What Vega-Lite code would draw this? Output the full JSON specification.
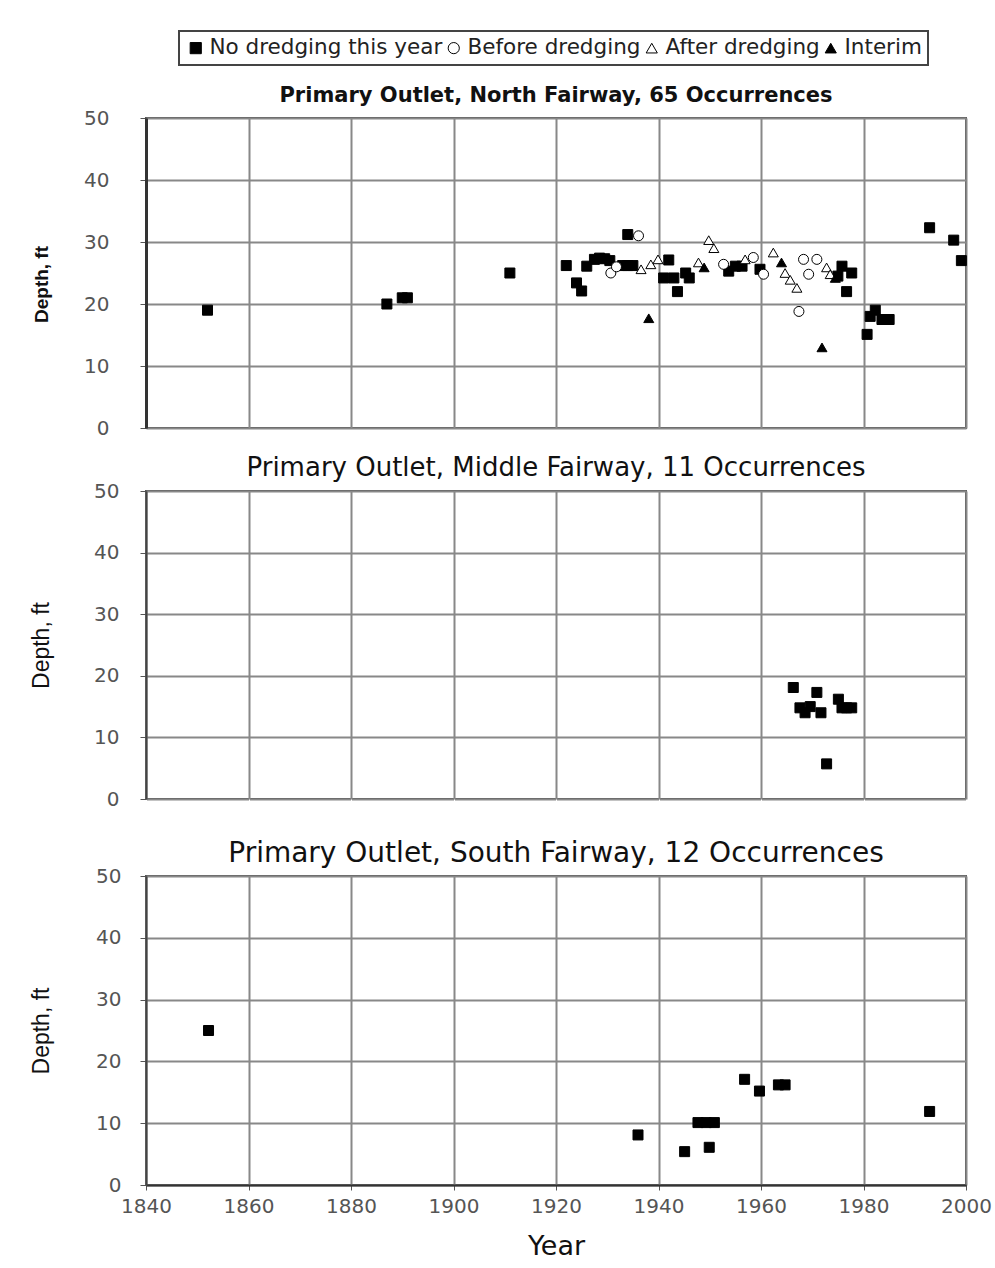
{
  "$schema": "https://vega.github.io/schema/vega-lite/v6.json",
  "padding": {"left": 29, "top": 30, "right": 5, "bottom": 4},
  "background": "white",
  "config": {
    "font": "DejaVu Sans",
    "view": {"stroke": "#555", "strokeWidth": 2},
    "concat": {"spacing": 15},
    "axis": {
      "gridColor": "#888", "gridWidth": 2, "gridOpacity": 1,
      "labelFont": "DejaVu Sans", "labelFontSize": 20, "labelColor": "#555",
      "tickColor": "#555", "domainColor": "#444", "domainWidth": 2,
      "titleColor": "#111", "labelFlush": false
    },
    "legend": {"strokeWidth": 2, "orient": "none", "legendX": 33, "legendY": -87, "direction": "horizontal", "columns": 4, "title": null, "labelFont": "DejaVu Sans", "labelFontSize": 21.5, "labelColor": "#222", "symbolSize": 125, "symbolStrokeWidth": 1, "strokeColor": "#444", "padding": 6, "columnPadding": 0, "labelOffset": 3, "labelLimit": 400}
  },
  "datasets": {
    "d": [
      {"panel": "N", "year": 1852, "depth": 19, "type": "No dredging this year"},
      {"panel": "N", "year": 1887, "depth": 20, "type": "No dredging this year"},
      {"panel": "N", "year": 1890, "depth": 21, "type": "No dredging this year"},
      {"panel": "N", "year": 1891, "depth": 21, "type": "No dredging this year"},
      {"panel": "N", "year": 1911, "depth": 25, "type": "No dredging this year"},
      {"panel": "N", "year": 1922, "depth": 26.2, "type": "No dredging this year"},
      {"panel": "N", "year": 1924, "depth": 23.4, "type": "No dredging this year"},
      {"panel": "N", "year": 1925, "depth": 22.1, "type": "No dredging this year"},
      {"panel": "N", "year": 1926, "depth": 26.1, "type": "No dredging this year"},
      {"panel": "N", "year": 1927.5, "depth": 27.2, "type": "No dredging this year"},
      {"panel": "N", "year": 1928.5, "depth": 27.4, "type": "No dredging this year"},
      {"panel": "N", "year": 1929.5, "depth": 27.3, "type": "No dredging this year"},
      {"panel": "N", "year": 1930.5, "depth": 27, "type": "No dredging this year"},
      {"panel": "N", "year": 1933, "depth": 26.2, "type": "No dredging this year"},
      {"panel": "N", "year": 1934, "depth": 26.2, "type": "No dredging this year"},
      {"panel": "N", "year": 1935, "depth": 26.2, "type": "No dredging this year"},
      {"panel": "N", "year": 1934, "depth": 31.2, "type": "No dredging this year"},
      {"panel": "N", "year": 1941, "depth": 24.2, "type": "No dredging this year"},
      {"panel": "N", "year": 1942, "depth": 27.1, "type": "No dredging this year"},
      {"panel": "N", "year": 1943, "depth": 24.2, "type": "No dredging this year"},
      {"panel": "N", "year": 1943.7, "depth": 22, "type": "No dredging this year"},
      {"panel": "N", "year": 1945.3, "depth": 25, "type": "No dredging this year"},
      {"panel": "N", "year": 1946, "depth": 24.2, "type": "No dredging this year"},
      {"panel": "N", "year": 1953.7, "depth": 25.3, "type": "No dredging this year"},
      {"panel": "N", "year": 1955, "depth": 26.1, "type": "No dredging this year"},
      {"panel": "N", "year": 1956.3, "depth": 26.1, "type": "No dredging this year"},
      {"panel": "N", "year": 1959.8, "depth": 25.6, "type": "No dredging this year"},
      {"panel": "N", "year": 1975, "depth": 24.5, "type": "No dredging this year"},
      {"panel": "N", "year": 1975.8, "depth": 26.1, "type": "No dredging this year"},
      {"panel": "N", "year": 1976.7, "depth": 22, "type": "No dredging this year"},
      {"panel": "N", "year": 1977.7, "depth": 25, "type": "No dredging this year"},
      {"panel": "N", "year": 1980.7, "depth": 15.1, "type": "No dredging this year"},
      {"panel": "N", "year": 1981.3, "depth": 18, "type": "No dredging this year"},
      {"panel": "N", "year": 1982.3, "depth": 19, "type": "No dredging this year"},
      {"panel": "N", "year": 1983.6, "depth": 17.5, "type": "No dredging this year"},
      {"panel": "N", "year": 1985, "depth": 17.5, "type": "No dredging this year"},
      {"panel": "N", "year": 1992.9, "depth": 32.3, "type": "No dredging this year"},
      {"panel": "N", "year": 1997.6, "depth": 30.3, "type": "No dredging this year"},
      {"panel": "N", "year": 1999.1, "depth": 27, "type": "No dredging this year"},
      {"panel": "N", "year": 1930.7, "depth": 25, "type": "Before dredging"},
      {"panel": "N", "year": 1931.8, "depth": 26, "type": "Before dredging"},
      {"panel": "N", "year": 1936.1, "depth": 31, "type": "Before dredging"},
      {"panel": "N", "year": 1952.7, "depth": 26.4, "type": "Before dredging"},
      {"panel": "N", "year": 1958.5, "depth": 27.5, "type": "Before dredging"},
      {"panel": "N", "year": 1960.5, "depth": 24.8, "type": "Before dredging"},
      {"panel": "N", "year": 1967.4, "depth": 18.8, "type": "Before dredging"},
      {"panel": "N", "year": 1968.3, "depth": 27.2, "type": "Before dredging"},
      {"panel": "N", "year": 1969.3, "depth": 24.8, "type": "Before dredging"},
      {"panel": "N", "year": 1970.9, "depth": 27.2, "type": "Before dredging"},
      {"panel": "N", "year": 1936.6, "depth": 25.6, "type": "After dredging"},
      {"panel": "N", "year": 1938.5, "depth": 26.4, "type": "After dredging"},
      {"panel": "N", "year": 1939.9, "depth": 27.2, "type": "After dredging"},
      {"panel": "N", "year": 1947.8, "depth": 26.7, "type": "After dredging"},
      {"panel": "N", "year": 1949.8, "depth": 30.3, "type": "After dredging"},
      {"panel": "N", "year": 1950.8, "depth": 29, "type": "After dredging"},
      {"panel": "N", "year": 1956.9, "depth": 27.2, "type": "After dredging"},
      {"panel": "N", "year": 1962.4, "depth": 28.3, "type": "After dredging"},
      {"panel": "N", "year": 1964.7, "depth": 25, "type": "After dredging"},
      {"panel": "N", "year": 1965.7, "depth": 23.9, "type": "After dredging"},
      {"panel": "N", "year": 1967, "depth": 22.6, "type": "After dredging"},
      {"panel": "N", "year": 1972.8, "depth": 25.9, "type": "After dredging"},
      {"panel": "N", "year": 1973.5, "depth": 24.8, "type": "After dredging"},
      {"panel": "N", "year": 1938.1, "depth": 17.7, "type": "Interim"},
      {"panel": "N", "year": 1948.9, "depth": 25.9, "type": "Interim"},
      {"panel": "N", "year": 1964, "depth": 26.7, "type": "Interim"},
      {"panel": "N", "year": 1971.9, "depth": 13, "type": "Interim"},
      {"panel": "N", "year": 1974.5, "depth": 24.2, "type": "Interim"},
      {"panel": "M", "year": 1966.3, "depth": 18.1, "type": "No dredging this year"},
      {"panel": "M", "year": 1970.9, "depth": 17.3, "type": "No dredging this year"},
      {"panel": "M", "year": 1967.6, "depth": 14.8, "type": "No dredging this year"},
      {"panel": "M", "year": 1968.6, "depth": 14, "type": "No dredging this year"},
      {"panel": "M", "year": 1969.6, "depth": 15, "type": "No dredging this year"},
      {"panel": "M", "year": 1971.7, "depth": 14, "type": "No dredging this year"},
      {"panel": "M", "year": 1975.1, "depth": 16.2, "type": "No dredging this year"},
      {"panel": "M", "year": 1975.8, "depth": 14.8, "type": "No dredging this year"},
      {"panel": "M", "year": 1976.7, "depth": 14.8, "type": "No dredging this year"},
      {"panel": "M", "year": 1977.7, "depth": 14.8, "type": "No dredging this year"},
      {"panel": "M", "year": 1972.8, "depth": 5.7, "type": "No dredging this year"},
      {"panel": "S", "year": 1852.2, "depth": 25, "type": "No dredging this year"},
      {"panel": "S", "year": 1936, "depth": 8.1, "type": "No dredging this year"},
      {"panel": "S", "year": 1945.1, "depth": 5.4, "type": "No dredging this year"},
      {"panel": "S", "year": 1949.9, "depth": 6.1, "type": "No dredging this year"},
      {"panel": "S", "year": 1947.7, "depth": 10.1, "type": "No dredging this year"},
      {"panel": "S", "year": 1949.3, "depth": 10.1, "type": "No dredging this year"},
      {"panel": "S", "year": 1950.9, "depth": 10.1, "type": "No dredging this year"},
      {"panel": "S", "year": 1956.8, "depth": 17.1, "type": "No dredging this year"},
      {"panel": "S", "year": 1959.7, "depth": 15.2, "type": "No dredging this year"},
      {"panel": "S", "year": 1963.4, "depth": 16.2, "type": "No dredging this year"},
      {"panel": "S", "year": 1964.7, "depth": 16.2, "type": "No dredging this year"},
      {"panel": "S", "year": 1992.9, "depth": 11.9, "type": "No dredging this year"}
    ]
  },
  "vconcat": [
    {
      "width": 820, "height": 310,
      "data": {"name": "d"},
      "transform": [{"filter": "datum.panel === 'N'"}],
      "title": {"text": "Primary Outlet, North Fairway, 65 Occurrences", "font": "DejaVu Sans", "fontSize": 21, "fontWeight": "bold", "offset": 2, "color": "#111", "anchor": "middle"},
      "mark": {"type": "point", "filled": true, "size": 100, "opacity": 1, "strokeWidth": 1},
      "encoding": {
        "x": {"field": "year", "type": "quantitative", "scale": {"domain": [1840, 2000], "nice": false, "zero": false},
              "axis": {"title": null, "labels": false, "ticks": false, "domain": false, "grid": true, "values": [1840, 1860, 1880, 1900, 1920, 1940, 1960, 1980, 2000]}},
        "y": {"field": "depth", "type": "quantitative", "scale": {"domain": [0, 50], "nice": false},
              "axis": {"title": "Depth, ft", "titleFont": "Liberation Sans", "titleFontSize": 19, "titleFontWeight": "bold", "titlePadding": 33, "titleY": 166,
                       "values": [0, 10, 20, 30, 40, 50], "tickSize": 6, "labelPadding": 31, "minExtent": 62, "maxExtent": 62, "domainWidth": 3, "domainColor": "#333"}},
        "shape": {"field": "type", "type": "nominal",
                  "scale": {"domain": ["No dredging this year", "Before dredging", "After dredging", "Interim"], "range": ["square", "circle", "triangle-up", "triangle-up"]}},
        "fill": {"field": "type", "type": "nominal",
                 "scale": {"domain": ["No dredging this year", "Before dredging", "After dredging", "Interim"], "range": ["black", "white", "white", "black"]}},
        "stroke": {"field": "type", "type": "nominal",
                   "scale": {"domain": ["No dredging this year", "Before dredging", "After dredging", "Interim"], "range": ["black", "black", "black", "black"]}}
      }
    },
    {
      "width": 820, "height": 308,
      "data": {"name": "d"},
      "transform": [{"filter": "datum.panel === 'M'"}],
      "title": {"text": "Primary Outlet, Middle Fairway, 11 Occurrences", "font": "DejaVu Sans", "fontSize": 26, "fontWeight": "normal", "offset": 0, "color": "#111", "anchor": "middle"},
      "mark": {"type": "point", "filled": true, "size": 100, "opacity": 1, "strokeWidth": 1},
      "encoding": {
        "x": {"field": "year", "type": "quantitative", "scale": {"domain": [1840, 2000], "nice": false, "zero": false},
              "axis": {"title": null, "labels": false, "ticks": true, "tickSize": 23, "tickColor": "white", "domain": false, "grid": true, "values": [1840, 1860, 1880, 1900, 1920, 1940, 1960, 1980, 2000]}},
        "y": {"field": "depth", "type": "quantitative", "scale": {"domain": [0, 50], "nice": false},
              "axis": {"title": "Depth,  ft", "titleFont": "Liberation Sans", "titleFontSize": 23, "titleFontWeight": "normal", "titlePadding": 31,
                       "values": [0, 10, 20, 30, 40, 50], "tickSize": 6, "labelPadding": 21, "minExtent": 62, "maxExtent": 62}},
        "shape": {"field": "type", "type": "nominal",
                  "scale": {"domain": ["No dredging this year", "Before dredging", "After dredging", "Interim"], "range": ["square", "circle", "triangle-up", "triangle-up"]}},
        "fill": {"field": "type", "type": "nominal",
                 "scale": {"domain": ["No dredging this year", "Before dredging", "After dredging", "Interim"], "range": ["black", "white", "white", "black"]}},
        "stroke": {"field": "type", "type": "nominal",
                   "scale": {"domain": ["No dredging this year", "Before dredging", "After dredging", "Interim"], "range": ["black", "black", "black", "black"]}}
      }
    },
    {
      "width": 820, "height": 309,
      "data": {"name": "d"},
      "transform": [{"filter": "datum.panel === 'S'"}],
      "title": {"text": "Primary Outlet, South Fairway, 12 Occurrences", "font": "DejaVu Sans", "fontSize": 28, "fontWeight": "normal", "offset": -2, "color": "#111", "anchor": "middle"},
      "mark": {"type": "point", "filled": true, "size": 100, "opacity": 1, "strokeWidth": 1},
      "encoding": {
        "x": {"field": "year", "type": "quantitative", "scale": {"domain": [1840, 2000], "nice": false, "zero": false},
              "axis": {"title": "Year", "titleFont": "DejaVu Sans", "titleFontSize": 27, "titleFontWeight": "normal", "titlePadding": 17, "format": "d",
                       "values": [1840, 1860, 1880, 1900, 1920, 1940, 1960, 1980, 2000], "tickSize": 5, "labelPadding": 6, "domainColor": "#333", "domainWidth": 2}},
        "y": {"field": "depth", "type": "quantitative", "scale": {"domain": [0, 50], "nice": false},
              "axis": {"title": "Depth,  ft", "titleFont": "Liberation Sans", "titleFontSize": 23, "titleFontWeight": "normal", "titlePadding": 31,
                       "values": [0, 10, 20, 30, 40, 50], "tickSize": 6, "labelPadding": 19, "minExtent": 62, "maxExtent": 62}},
        "shape": {"field": "type", "type": "nominal",
                  "scale": {"domain": ["No dredging this year", "Before dredging", "After dredging", "Interim"], "range": ["square", "circle", "triangle-up", "triangle-up"]}},
        "fill": {"field": "type", "type": "nominal",
                 "scale": {"domain": ["No dredging this year", "Before dredging", "After dredging", "Interim"], "range": ["black", "white", "white", "black"]}},
        "stroke": {"field": "type", "type": "nominal",
                   "scale": {"domain": ["No dredging this year", "Before dredging", "After dredging", "Interim"], "range": ["black", "black", "black", "black"]}}
      }
    }
  ]
}
